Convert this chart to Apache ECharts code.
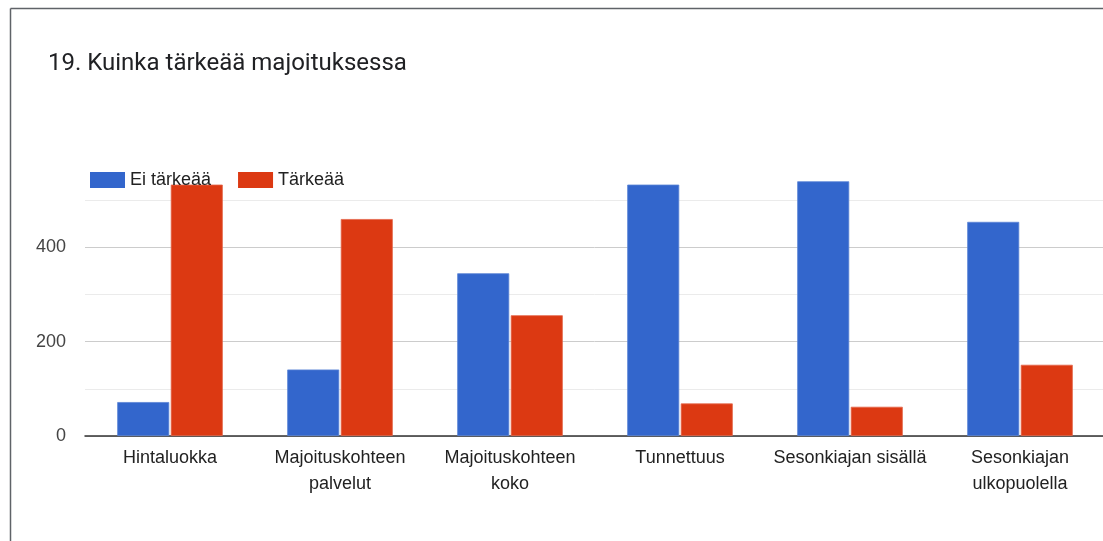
<!DOCTYPE html>
<html>
<head>
<meta charset="utf-8">
<script src="https://cdn.jsdelivr.net/npm/echarts@6/dist/echarts.min.js"></script>
<style>
  html, body { margin: 0; padding: 0; background: #fff; }
  #chart { width: 1103px; height: 541px; }
</style>
</head>
<body>
<div id="chart"></div>
<script>
const titleText = '19. Kuinka tärkeää majoituksessa';
const categories = ['Hintaluokka', 'Majoituskohteen palvelut', 'Majoituskohteen koko', 'Tunnettuus', 'Sesonkiajan sisällä', 'Sesonkiajan ulkopuolella'];
const seriesNames = ['Ei tärkeää', 'Tärkeää'];
const eiTarkeaa = [72, 141, 345, 533, 540, 454];
const tarkeaa = [533, 460, 256, 69, 62, 151];
const colors = ['#3366cc', '#dc3912'];

const chart = echarts.init(document.getElementById('chart'), null, { renderer: 'canvas' });
chart.setOption({
  animation: false,
  color: colors,
  title: {
    text: titleText,
    left: 43,
    top: 47,
    textStyle: { fontFamily: 'Roboto', fontSize: 24, fontWeight: 'normal', color: '#202124', lineHeight: 24 }
  },
  graphic: [
    { type: 'line', shape: { x1: 10.5, y1: 8.5, x2: 1103, y2: 8.5 }, style: { stroke: '#5f6368', lineWidth: 1.5 } },
    { type: 'line', shape: { x1: 10.5, y1: 8.5, x2: 10.5, y2: 541 }, style: { stroke: '#5f6368', lineWidth: 1.5 } }
  ],
  legend: {
    data: seriesNames,
    left: 85,
    top: 166,
    itemWidth: 35,
    itemHeight: 16,
    itemGap: 27,
    icon: 'rect',
    itemStyle: { borderWidth: 0 },
    textStyle: { fontFamily: 'Liberation Sans', fontSize: 18, color: '#222', lineHeight: 16 }
  },
  grid: { left: 85, top: 153, width: 1020, height: 283, containLabel: false, outerBoundsMode: 'none' },
  xAxis: {
    type: 'category',
    data: categories,
    axisLine: { show: true, lineStyle: { color: '#333', width: 1.5 } },
    axisTick: { show: false },
    axisLabel: {
      interval: 0,
      margin: 9,
      formatter: function (v) { return v.length > 19 ? v.replace(' ', '\n') : v; },
      fontFamily: 'Liberation Sans',
      fontSize: 18,
      lineHeight: 26,
      color: '#222'
    },
    splitLine: { show: false }
  },
  yAxis: {
    type: 'value',
    min: 0,
    max: 600,
    interval: 200,
    axisLine: { show: false },
    axisTick: { show: false },
    axisLabel: {
      showMaxLabel: false,
      margin: 19,
      fontFamily: 'Liberation Sans',
      fontSize: 18,
      color: '#444'
    },
    splitLine: { show: true, showMaxLine: false, lineStyle: { color: '#cccccc', width: 1 } },
    minorTick: { show: false, splitNumber: 2 },
    minorSplitLine: { show: true, lineStyle: { color: '#ebebeb', width: 1 } }
  },
  series: [
    {
      name: seriesNames[0],
      type: 'bar',
      data: eiTarkeaa,
      barWidth: 52,
      barGap: '3%',
      itemStyle: { color: colors[0], borderColor: '#5c85d6', borderWidth: 0.8 }
    },
    {
      name: seriesNames[1],
      type: 'bar',
      data: tarkeaa,
      barWidth: 52,
      itemStyle: { color: colors[1], borderColor: '#e5664a', borderWidth: 0.8 }
    }
  ]
});
</script>
</body>
</html>
